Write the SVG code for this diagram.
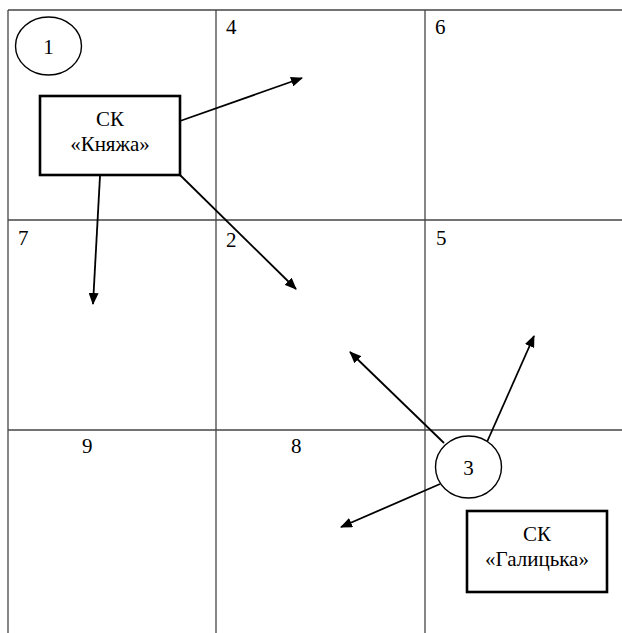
<svg xmlns="http://www.w3.org/2000/svg" width="622" height="633" viewBox="0 0 622 633">
<defs>
<style>
.grid{stroke:#444;stroke-width:1.3;fill:none}
.num{font-family:'Liberation Serif','Times New Roman','DejaVu Serif',serif;font-size:21px;fill:#000}
.lbl{font-family:'Liberation Serif','Times New Roman','DejaVu Serif',serif;font-size:21px;fill:#000;text-anchor:middle}
.box{fill:#fff;stroke:#000;stroke-width:2.6}
.circ{fill:#fff;stroke:#000;stroke-width:1.4}
.arr{stroke:#000;stroke-width:1.8;fill:none;marker-end:url(#ah)}
</style>
<marker id="ah" viewBox="0 0 12 10" refX="11" refY="5" markerWidth="12" markerHeight="10" markerUnits="userSpaceOnUse" orient="auto">
<path d="M0,0 L12,5 L0,10 z" fill="#000"/>
</marker>
</defs>
<rect width="622" height="633" fill="#fff"/>
<g id="grid">
<line class="grid" x1="8" y1="10" x2="622" y2="10"/>
<line class="grid" x1="8" y1="10" x2="8" y2="633"/>
<line class="grid" x1="216" y1="10" x2="216" y2="633"/>
<line class="grid" x1="425" y1="10" x2="425" y2="633"/>
<line class="grid" x1="8" y1="220" x2="622" y2="220"/>
<line class="grid" x1="8" y1="430" x2="622" y2="430"/>
<text class="num" x="226" y="34">4</text>
<text class="num" x="435" y="34">6</text>
<text class="num" x="18" y="245">7</text>
<text class="num" x="226" y="247">2</text>
<text class="num" x="436" y="245">5</text>
<text class="num" x="82" y="453">9</text>
<text class="num" x="291" y="453">8</text>
</g>
<g id="connectors">
<line class="arr" x1="180" y1="121" x2="302" y2="78"/>
<line class="arr" x1="100" y1="176" x2="93" y2="304"/>
<line class="arr" x1="180" y1="175" x2="296" y2="289"/>
<line class="arr" x1="444" y1="443" x2="350" y2="352"/>
<line class="arr" x1="487" y1="442" x2="534" y2="336"/>
<line class="arr" x1="440" y1="484" x2="341" y2="527"/>
</g>
<g id="node1">
<ellipse class="circ" cx="48.5" cy="46" rx="33" ry="29"/>
<text class="num" x="48.5" y="54" text-anchor="middle">1</text>
</g>
<g id="knyazha">
<rect class="box" x="40" y="96" width="140" height="79"/>
<text class="lbl" x="110" y="126">СК</text>
<text class="lbl" x="110" y="151">«Княжа»</text>
</g>
<g id="node3">
<ellipse class="circ" cx="468.5" cy="467" rx="33" ry="31"/>
<text class="num" x="468.5" y="475" text-anchor="middle">3</text>
</g>
<g id="galytska">
<rect class="box" x="467" y="511" width="140" height="81"/>
<text class="lbl" x="537" y="541">СК</text>
<text class="lbl" x="537" y="566">«Галицька»</text>
</g>
</svg>
